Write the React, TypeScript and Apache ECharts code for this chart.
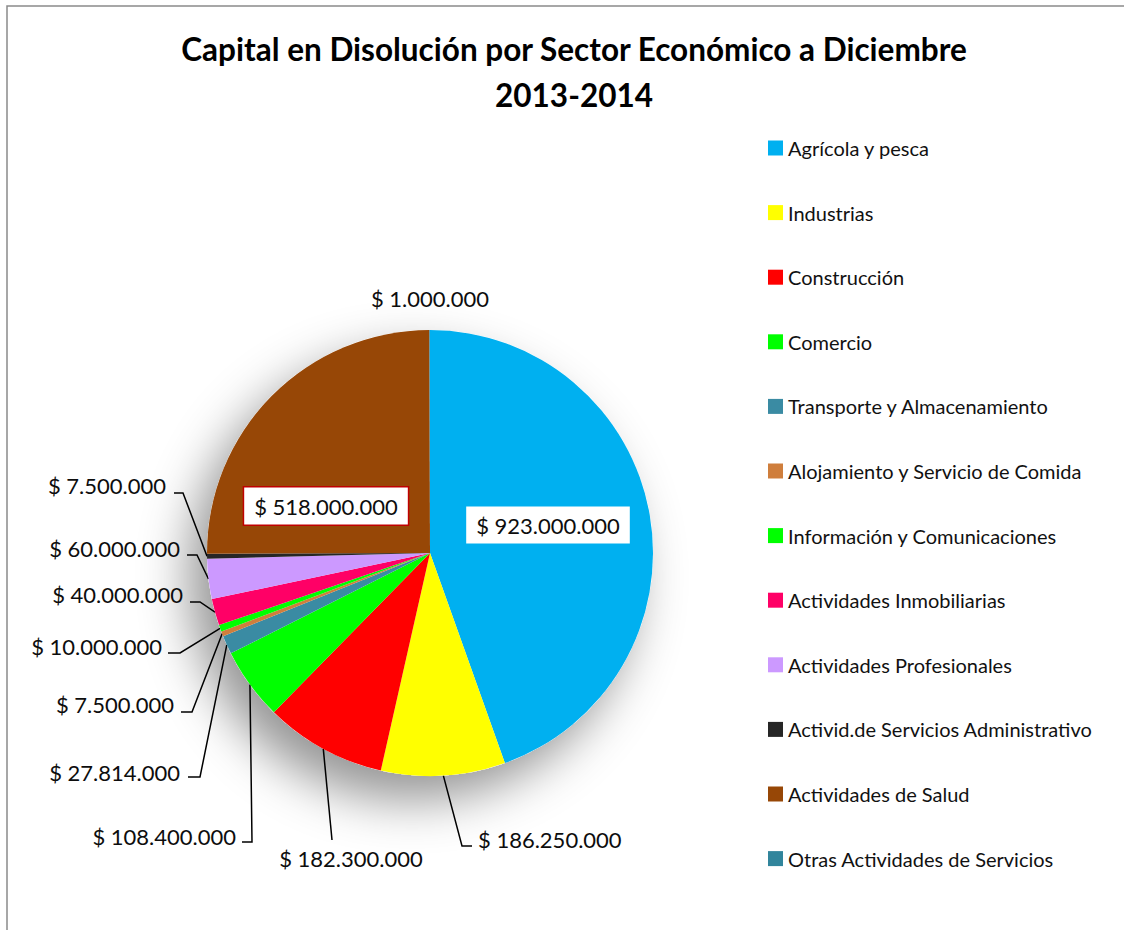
import React, { useEffect, useRef } from 'react';
import * as echarts from 'echarts';

const categories = [
  'Agrícola y pesca',
  'Industrias',
  'Construcción',
  'Comercio',
  'Transporte y Almacenamiento',
  'Alojamiento y Servicio de Comida',
  'Información y Comunicaciones',
  'Actividades Inmobiliarias',
  'Actividades Profesionales',
  'Activid.de Servicios Administrativo',
  'Actividades de Salud',
  'Otras Actividades de Servicios',
];
const values = [
  923000000, 186250000, 182300000, 108400000, 27814000, 7500000, 10000000, 40000000,
  60000000, 7500000, 518000000, 1000000,
];
const colors = [
  '#00B0F0', '#FFFF00', '#FF0000', '#00FF00', '#3A8BA3', '#CF7E3C', '#00FF00', '#FF0066',
  '#CC99FF', '#262626', '#974706', '#31859C',
];
const titleText = 'Capital en Disolución por Sector Económico a Diciembre\n2013-2014';

const FONT = 'Lato, "Noto Sans", sans-serif';
const CX = 430;
const CY = 553;
const R = 223;

// label layout (positions only)
type LP = { x: number; y: number; align: string; elbow?: number[]; end?: number[] };
const labelPos: LP[] = [
  { x: 548, y: 525, align: 'center' },
  { x: 478, y: 839, align: 'left', elbow: [462, 846], end: [472, 846] },
  { x: 351, y: 858, align: 'center', elbow: [332, 840], end: [332, 840] },
  { x: 236, y: 836, align: 'right', elbow: [252, 842], end: [242, 842] },
  { x: 180, y: 772, align: 'right', elbow: [200, 777], end: [188, 777] },
  { x: 174, y: 704, align: 'right', elbow: [192, 712], end: [181, 712] },
  { x: 162, y: 646, align: 'right', elbow: [180, 653], end: [168, 653] },
  { x: 183, y: 594, align: 'right', elbow: [200, 602], end: [190, 602] },
  { x: 180, y: 548, align: 'right', elbow: [197, 555], end: [187, 555] },
  { x: 166, y: 485, align: 'right', elbow: [183, 493], end: [174, 493] },
  { x: 326, y: 506, align: 'center' },
  { x: 430, y: 298, align: 'center' },
];

const fmt = (v: number) => '$ ' + String(v).replace(/\B(?=(\d{3})+(?!\d))/g, '.');

const total = values.reduce((a, b) => a + b, 0);
function edgePoint(i: number): number[] {
  let s = 0;
  for (let k = 0; k < i; k++) s += values[k];
  const f = (s + values[i] / 2) / total;
  const t = 2 * Math.PI * f;
  return [CX + R * Math.sin(t), CY - R * Math.cos(t)];
}

const boxed: Record<number, string> = { 0: '#00B0F0', 10: '#C00000' };

export default function App() {
  const ref = useRef<HTMLDivElement>(null);
  useEffect(() => {
    if (!ref.current) return;
    const chart = echarts.init(ref.current, undefined, { renderer: 'svg' });
    const data = categories.map((name, i) => {
      const item: any = { name, value: values[i], itemStyle: { color: colors[i] } };
      if (boxed[i]) {
        item.label = {
          backgroundColor: '#FFFFFF',
          borderColor: boxed[i],
          borderWidth: 1.5,
          padding: [8, 10, 7, 10],
        };
        item.labelLine = { show: false };
      }
      if (i === 11) item.labelLine = { show: false };
      return item;
    });
    chart.setOption({
      animation: false,
      backgroundColor: '#FFFFFF',
      title: {
        text: titleText,
        left: 569,
        top: 21,
        textAlign: 'center',
        textStyle: {
          fontFamily: FONT,
          fontSize: 31.5,
          fontWeight: 'bold',
          lineHeight: 46,
          color: '#000000',
        },
      },
      legend: {
        orient: 'vertical',
        left: 763,
        top: 133,
        itemWidth: 15,
        itemHeight: 15,
        itemGap: 44.6,
        icon: 'rect',
        selectedMode: false,
        data: categories,
        textStyle: { fontFamily: FONT, fontSize: 20, lineHeight: 20, color: '#111111' },
      },
      graphic: [
        {
          type: 'rect',
          silent: true,
          z: -10,
          shape: { x: 7, y: 6, width: 1140, height: 950 },
          style: { fill: 'none', stroke: '#8A8A8A', lineWidth: 1.5 },
        },
      ],
      series: [
        {
          type: 'pie',
          name: 'shadow',
          silent: true,
          center: [CX, CY],
          radius: R,
          z: 1,
          label: { show: false },
          labelLine: { show: false },
          itemStyle: {
            color: '#FFFFFF',
            shadowBlur: 50,
            shadowColor: 'rgba(0,0,0,0.42)',
            shadowOffsetX: -18,
            shadowOffsetY: 24,
          },
          data: [{ name: '__shadow', value: 1 }],
        },
        {
          type: 'pie',
          name: 'Capital',
          center: [CX, CY],
          radius: R,
          z: 2,
          startAngle: 90,
          clockwise: true,
          avoidLabelOverlap: false,
          itemStyle: { borderWidth: 0 },
          label: {
            show: true,
            position: 'outside',
            formatter: (p: any) => fmt(p.value),
            fontFamily: FONT,
            fontSize: 22,
            color: '#0D0D0D',
          },
          labelLine: { show: true, lineStyle: { color: '#000000', width: 1.5 } },
          labelLayout: (p: any) => {
            const i = p.dataIndex;
            const lp = labelPos[i];
            const out: any = { x: lp.x, y: lp.y, align: lp.align, verticalAlign: 'middle' };
            if (lp.elbow && lp.end) {
              out.labelLinePoints = [edgePoint(i), lp.elbow, lp.end];
            }
            return out;
          },
          data,
        },
      ],
    });
    return () => chart.dispose();
  }, []);
  return (
    <div
      ref={ref}
      style={{ position: 'absolute', left: 0, top: 0, width: 1124, height: 930 }}
    />
  );
}
